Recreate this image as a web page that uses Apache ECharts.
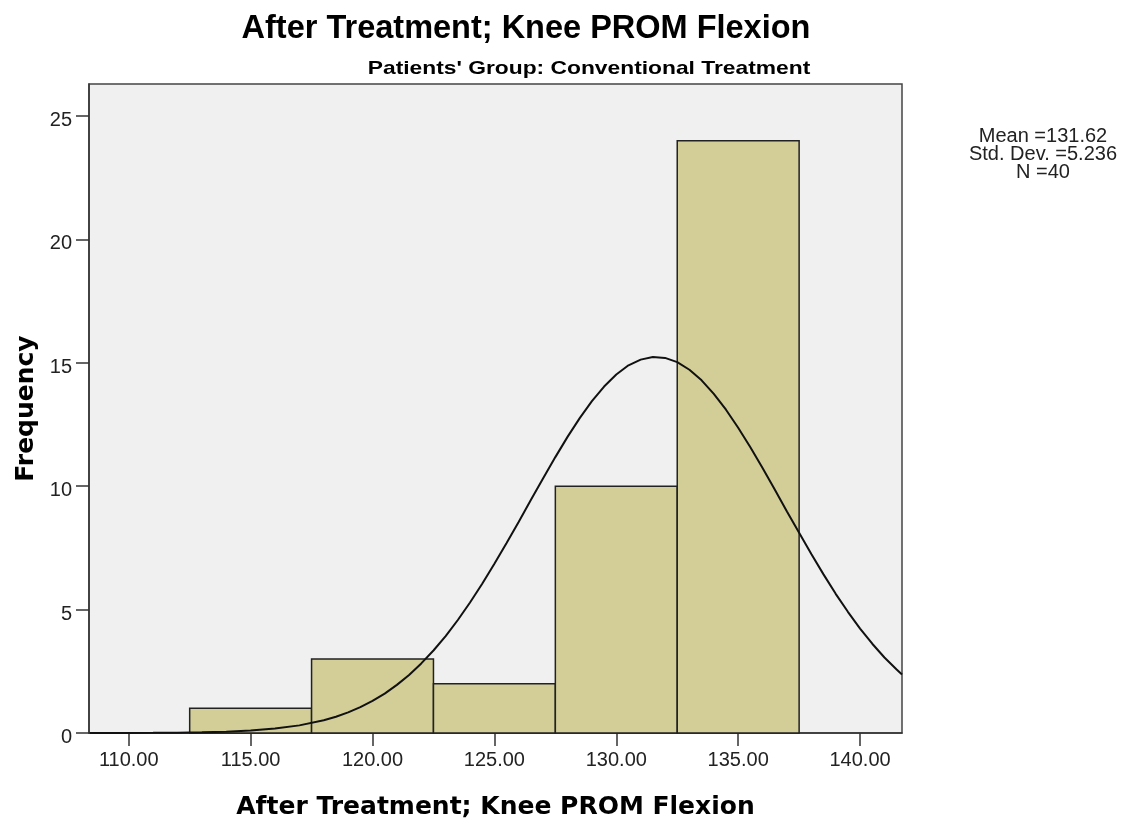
<!DOCTYPE html>
<html><head><meta charset="utf-8">
<script src="https://cdn.jsdelivr.net/npm/echarts@6/dist/echarts.min.js"></script>
<style>html,body{margin:0;padding:0;background:#fff}#c{width:1132px;height:828px}</style>
</head><body><div id="c"></div>
<script>
// Histogram bins (start, end) and frequencies
const binStarts = [112.5, 117.5, 122.5, 127.5, 132.5];
const binEnds   = [117.5, 122.5, 127.5, 132.5, 137.5];
const counts    = [1, 3, 2, 10, 24];
// Normal curve (x, frequency)
const curveX = [108.4,110,111,112,113,114,115,116,117,118,118.5,119,119.5,120,120.5,121,121.5,122,122.5,123,123.5,124,124.5,125,125.5,126,126.5,127,127.5,128,128.5,129,129.5,130,130.5,131,131.5,132,132.5,133,133.5,134,134.5,135,135.5,136,136.5,137,137.5,138,138.5,139,139.5,140,140.5,141,141.5,141.72];
const curveY = [0.001,0.003,0.007,0.014,0.027,0.053,0.098,0.178,0.309,0.518,0.660,0.837,1.046,1.30,1.597,1.95,2.354,2.82,3.343,3.93,4.579,5.29,6.046,6.86,7.697,8.56,9.449,10.32,11.18,12.00,12.76,13.45,14.04,14.53,14.90,15.13,15.236,15.20,15.03,14.72,14.29,13.74,13.10,12.37,11.58,10.74,9.871,8.98,8.112,7.25,6.428,5.64,4.911,4.23,3.617,3.06,2.570,2.37];
const xTicks = [110,115,120,125,130,135,140];
const yTicks = [0,5,10,15,20,25];
const statLines = ['Mean =131.62','Std. Dev. =5.236','N =40'];

const chart = echarts.init(document.getElementById('c'));
chart.setOption({
  animation:false,
  backgroundColor:'#fff',
  title:[
    {text:'After Treatment; Knee PROM Flexion', left:521, top:8, textAlign:'center',
     textStyle:{fontFamily:'Liberation Sans, Arial', fontWeight:'bold', fontSize:32.5, color:'#000'}}
  ],
  grid:{left:89, top:84, width:813, height:649, show:true, backgroundColor:'#f0f0f0', borderColor:'#444', borderWidth:1.5},
  xAxis:{type:'value', min:108.37, max:141.72,
    name:'After Treatment; Knee PROM Flexion', nameLocation:'middle', nameGap:62,
    nameTextStyle:{fontFamily:'DejaVu Sans', fontWeight:'bold', fontSize:25, color:'#000'},
    axisLine:{show:true, onZero:false, lineStyle:{color:'#333', width:1.5}},
    axisTick:{show:true, length:13, customValues:xTicks, lineStyle:{color:'#333', width:1.5}},
    axisLabel:{customValues:xTicks, formatter:v=>v.toFixed(2), fontFamily:'Liberation Sans, Arial', fontSize:20, color:'#222', margin:17},
    splitLine:{show:false}},
  yAxis:{type:'value', min:0, max:26.3,
    name:'Frequency', nameLocation:'middle', nameGap:50, nameRotate:90,
    nameTextStyle:{fontFamily:'DejaVu Sans', fontWeight:'bold', fontSize:25, color:'#000'},
    axisLine:{show:true, lineStyle:{color:'#333', width:1.5}},
    axisTick:{show:true, length:13, customValues:yTicks, lineStyle:{color:'#333', width:1.5}},
    axisLabel:{customValues:yTicks, fontFamily:'Liberation Sans, Arial', fontSize:20, color:'#222', margin:17, verticalAlign:'top', lineHeight:9},
    splitLine:{show:false}},
  series:[
    {type:'custom', data:binStarts.map((s,i)=>[s, binEnds[i], counts[i]]),
     encode:{x:[0,1], y:2},
     renderItem:(params, api)=>{
       const p0 = api.coord([api.value(0), api.value(2)]);
       const p1 = api.coord([api.value(1), 0]);
       return {type:'rect', shape:{x:p0[0], y:p0[1], width:p1[0]-p0[0], height:p1[1]-p0[1]},
         style:{fill:'#d3ce98', stroke:'#222', lineWidth:1.5}};
     }, z:2},
    {type:'line', data:curveX.map((x,i)=>[x, curveY[i]]), smooth:false, showSymbol:false,
     lineStyle:{color:'#111', width:2}, z:3}
  ],
  graphic:[
    {type:'text', x:589, y:59, scaleX:1.2, originX:0, style:{text:"Patients' Group: Conventional Treatment", align:'center',
      font:'bold 19px "Liberation Sans", Arial', fill:'#000'}},
    {type:'text', x:1043, y:127, style:{text:statLines.join('\n'), align:'center',
      font:'20px "Liberation Sans", Arial', fill:'#222', lineHeight:18}}
  ]
});
</script></body></html>
